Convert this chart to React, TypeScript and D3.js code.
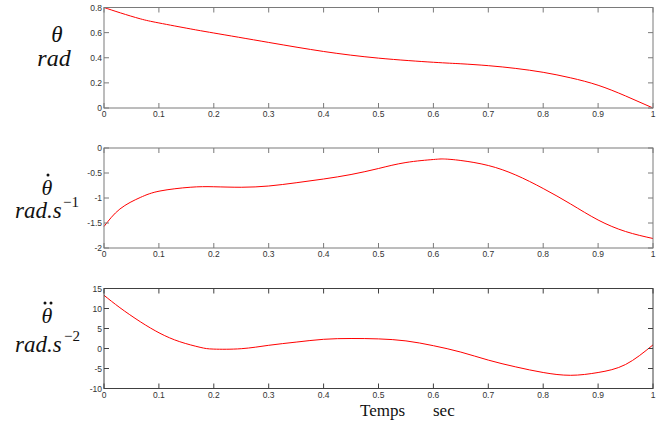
import React from "react";
import * as d3 from "d3";

const xTicks = [0, 0.1, 0.2, 0.3, 0.4, 0.5, 0.6, 0.7, 0.8, 0.9, 1];
const xTickLabels = ["0", "0.1", "0.2", "0.3", "0.4", "0.5", "0.6", "0.7", "0.8", "0.9", "1"];

const posT = [0, 0.03, 0.066, 0.1, 0.157, 0.2, 0.3, 0.4, 0.5, 0.6, 0.65, 0.7, 0.75, 0.8, 0.85, 0.9, 0.95, 1.0];
const posV = [0.8, 0.757, 0.71, 0.677, 0.63, 0.597, 0.522, 0.45, 0.397, 0.364, 0.352, 0.337, 0.315, 0.284, 0.24, 0.181, 0.096, 0.0];
const posTicks = [0, 0.2, 0.4, 0.6, 0.8];
const posTickLabels = ["0", "0.2", "0.4", "0.6", "0.8"];

const velT = [0, 0.029, 0.066, 0.102, 0.157, 0.2, 0.25, 0.3, 0.35, 0.4, 0.45, 0.5, 0.55, 0.6, 0.62, 0.65, 0.7, 0.75, 0.8, 0.85, 0.9, 0.95, 1.0];
const velV = [-1.57, -1.22, -0.99, -0.86, -0.785, -0.775, -0.785, -0.76, -0.695, -0.62, -0.53, -0.41, -0.29, -0.23, -0.22, -0.25, -0.35, -0.54, -0.81, -1.12, -1.44, -1.67, -1.81];
const velTicks = [0, -0.5, -1, -1.5, -2];
const velTickLabels = ["0", "-0.5", "-1", "-1.5", "-2"];

const accT = [0, 0.029, 0.066, 0.102, 0.138, 0.175, 0.2, 0.25, 0.3, 0.35, 0.4, 0.45, 0.5, 0.55, 0.6, 0.65, 0.7, 0.75, 0.8, 0.85, 0.9, 0.95, 1.0];
const accV = [13.3, 10.2, 6.7, 3.8, 1.7, 0.3, -0.15, -0.05, 0.8, 1.6, 2.3, 2.5, 2.4, 1.9, 0.7, -0.9, -2.9, -4.6, -6.0, -6.7, -6.0, -4.0, 0.9];
const accTicks = [15, 10, 5, 0, -5, -10];
const accTickLabels = ["15", "10", "5", "0", "-5", "-10"];

const W = 671;
const H = 424;
const X0 = 104;
const X1 = 653;

type PanelProps = {
  top: number;
  bottom: number;
  domain: [number, number];
  ts: number[];
  vs: number[];
  yTicks: number[];
  yLabels: string[];
  frame: string;
  curve: d3.CurveFactory;
};

function Panel({ top, bottom, domain, ts, vs, yTicks, yLabels, frame, curve }: PanelProps) {
  const x = d3.scaleLinear().domain([0, 1]).range([X0, X1]);
  const y = d3.scaleLinear().domain(domain).range([bottom, top]);
  const line = d3
    .line<number>()
    .x((_, i) => x(ts[i]))
    .y((d) => y(d))
    .curve(curve);
  const tl = 5;
  return (
    <g>
      <path d={line(vs) || ""} fill="none" stroke="#ff0000" strokeWidth={1} />
      <rect x={X0} y={top} width={X1 - X0} height={bottom - top} fill="none" stroke={frame} strokeWidth={1} />
      {xTicks.map((t, i) => (
        <g key={"x" + i}>
          <line x1={x(t)} x2={x(t)} y1={bottom} y2={bottom - tl} stroke={frame} />
          <line x1={x(t)} x2={x(t)} y1={top} y2={top + tl} stroke={frame} />
          <text x={x(t)} y={bottom + 9} textAnchor="middle" fontSize={8.5} fill="#333" fontFamily="Liberation Sans, Arial, sans-serif">
            {xTickLabels[i]}
          </text>
        </g>
      ))}
      {yTicks.map((v, i) => (
        <g key={"y" + i}>
          <line x1={X0} x2={X0 + tl} y1={y(v)} y2={y(v)} stroke={frame} />
          <line x1={X1} x2={X1 - tl} y1={y(v)} y2={y(v)} stroke={frame} />
          <text x={X0 - 2} y={y(v) + 3} textAnchor="end" fontSize={8.5} fill="#333" fontFamily="Liberation Sans, Arial, sans-serif">
            {yLabels[i]}
          </text>
        </g>
      ))}
    </g>
  );
}

export default function App() {
  const serif = "Liberation Serif, Times New Roman, serif";
  return (
    <svg width={W} height={H} style={{ position: "absolute", left: 0, top: 0, background: "#fff" }}>
      <rect x={0} y={0} width={W} height={H} fill="#fff" />
      <Panel top={7.5} bottom={108} domain={[0, 0.8]} ts={posT} vs={posV} yTicks={posTicks} yLabels={posTickLabels} frame="#7a7a7a" curve={d3.curveNatural} />
      <Panel top={148} bottom={248} domain={[-2, 0]} ts={velT} vs={velV} yTicks={velTicks} yLabels={velTickLabels} frame="#7a7a7a" curve={d3.curveNatural} />
      <Panel top={288.5} bottom={388.5} domain={[-10, 15]} ts={accT} vs={accV} yTicks={accTicks} yLabels={accTickLabels} frame="#404040" curve={d3.curveNatural} />

      <g fontFamily={serif} fontStyle="italic" fill="#111">
        <text x={57} y={42} fontSize={23} textAnchor="middle">θ</text>
        <text x={54} y={66} fontSize={24} textAnchor="middle">rad</text>

        <text x={47} y={195} fontSize={22} textAnchor="middle">θ</text>
        <circle cx={48} cy={175} r={1.5} fill="#111" />
        <text x={15} y={218} fontSize={23}>rad.s</text>
        <text x={63} y={207} fontSize={15} fontStyle="normal">−1</text>

        <text x={47} y={323} fontSize={22} textAnchor="middle">θ</text>
        <circle cx={45} cy={303} r={1.5} fill="#111" />
        <circle cx={51} cy={303} r={1.5} fill="#111" />
        <text x={15} y={352} fontSize={23}>rad.s</text>
        <text x={64} y={341} fontSize={15} fontStyle="normal">−2</text>
      </g>

      <text x={360} y={415.5} fontSize={17} fontFamily={serif} fill="#111">Temps</text>
      <text x={433} y={415.5} fontSize={17} fontFamily={serif} fill="#111">sec</text>
    </svg>
  );
}
